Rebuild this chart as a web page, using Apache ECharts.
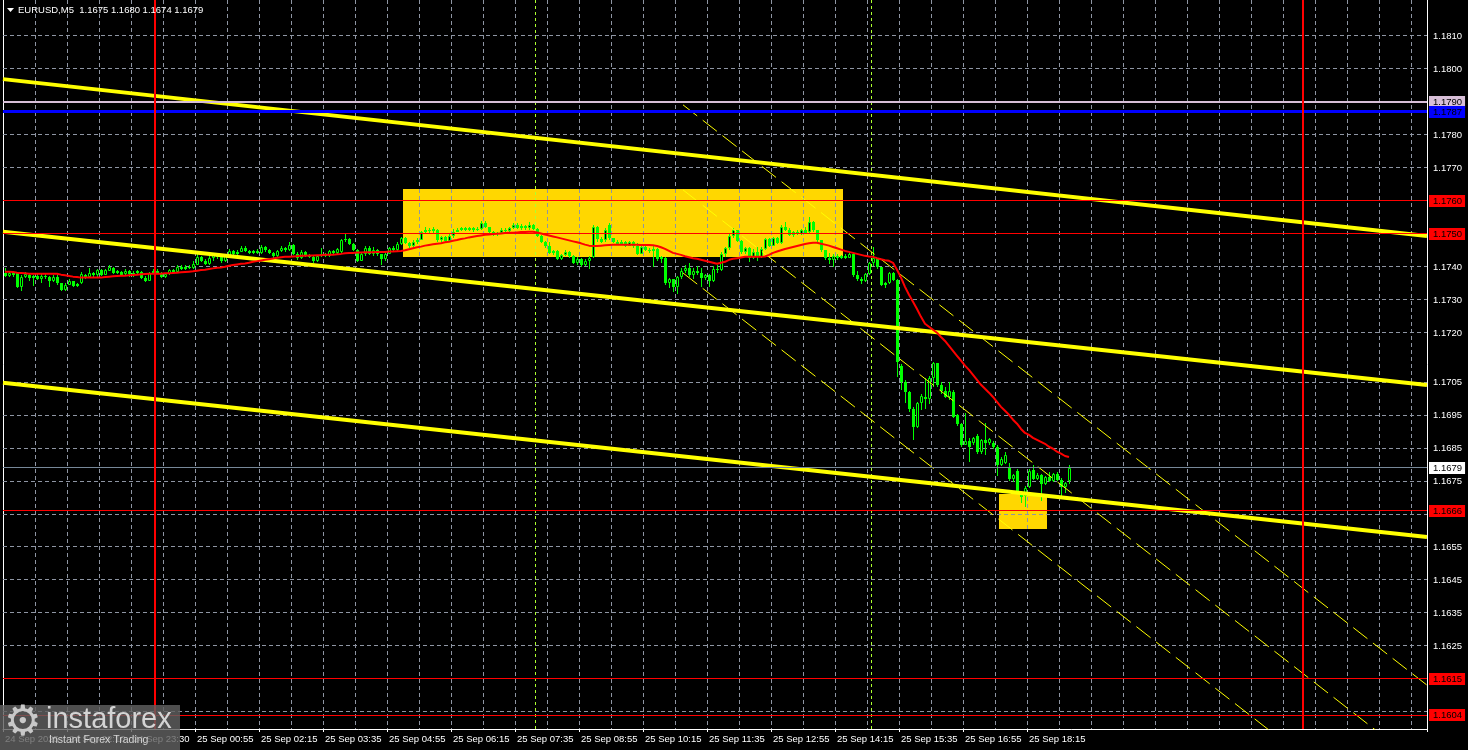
<!DOCTYPE html>
<html><head><meta charset="utf-8">
<script src="https://cdn.jsdelivr.net/npm/echarts@6/dist/echarts.min.js"></script>
<style>html,body{margin:0;padding:0;background:#000;}#c{width:1468px;height:750px;}</style>
</head><body><div id="c"></div>
<script>
// ---------------- DATA ----------------
const titleText = 'EURUSD,M5  1.1675 1.1680 1.1674 1.1679';
// candles: [open, close, low, high]
const ohlc = [
[1.17382,1.17372,1.17368,1.17396],[1.17372,1.17380,1.17368,1.17386],[1.17380,1.17375,1.17370,1.17386],[1.17380,1.17340,1.17336,1.17385],[1.17338,1.17370,1.17327,1.17374],
[1.17370,1.17378,1.17366,1.17384],[1.17375,1.17365,1.17358,1.17380],[1.17365,1.17372,1.17342,1.17376],[1.17372,1.17364,1.17360,1.17378],[1.17364,1.17373,1.17350,1.17378],
[1.17373,1.17370,1.17362,1.17382],[1.17368,1.17358,1.17338,1.17372],[1.17358,1.17370,1.17354,1.17374],[1.17370,1.17350,1.17346,1.17376],[1.17350,1.17328,1.17326,1.17352],
[1.17328,1.17346,1.17326,1.17350],[1.17346,1.17358,1.17344,1.17362],[1.17356,1.17342,1.17338,1.17358],[1.17342,1.17348,1.17339,1.17350],[1.17350,1.17378,1.17348,1.17384],
[1.17376,1.17366,1.17362,1.17378],[1.17368,1.17380,1.17366,1.17396],[1.17380,1.17374,1.17370,1.17384],[1.17374,1.17390,1.17370,1.17393],[1.17390,1.17376,1.17373,1.17394],
[1.17376,1.17390,1.17374,1.17394],[1.17388,1.17398,1.17386,1.17404],[1.17396,1.17382,1.17378,1.17398],[1.17382,1.17386,1.17378,1.17390],[1.17384,1.17376,1.17372,1.17388],
[1.17378,1.17388,1.17376,1.17392],[1.17386,1.17378,1.17370,1.17390],[1.17378,1.17382,1.17368,1.17386],[1.17382,1.17386,1.17376,1.17390],[1.17384,1.17366,1.17362,1.17386],
[1.17366,1.17358,1.17353,1.17372],[1.17358,1.17380,1.17356,1.17384],[1.17380,1.17388,1.17378,1.17394],[1.17388,1.17382,1.17378,1.17394],[1.17382,1.17370,1.17366,1.17384],
[1.17370,1.17378,1.17366,1.17382],[1.17378,1.17390,1.17376,1.17394],[1.17390,1.17384,1.17380,1.17394],[1.17384,1.17398,1.17382,1.17404],[1.17398,1.17394,1.17390,1.17404],
[1.17394,1.17400,1.17390,1.17404],[1.17400,1.17396,1.17392,1.17404],[1.17396,1.17408,1.17394,1.17416],[1.17406,1.17430,1.17404,1.17438],[1.17430,1.17418,1.17414,1.17434],
[1.17418,1.17408,1.17404,1.17422],[1.17408,1.17428,1.17406,1.17434],[1.17428,1.17436,1.17416,1.17442],[1.17436,1.17430,1.17424,1.17440],[1.17430,1.17416,1.17412,1.17434],
[1.17416,1.17434,1.17414,1.17440],[1.17434,1.17448,1.17430,1.17454],[1.17448,1.17440,1.17436,1.17452],[1.17440,1.17446,1.17436,1.17450],[1.17446,1.17458,1.17444,1.17464],
[1.17458,1.17448,1.17444,1.17462],[1.17448,1.17442,1.17438,1.17452],[1.17442,1.17448,1.17438,1.17452],[1.17448,1.17442,1.17438,1.17454],[1.17442,1.17460,1.17440,1.17466],
[1.17460,1.17450,1.17446,1.17462],[1.17450,1.17442,1.17438,1.17454],[1.17442,1.17432,1.17426,1.17444],[1.17432,1.17448,1.17430,1.17452],[1.17448,1.17456,1.17446,1.17462],
[1.17456,1.17450,1.17446,1.17460],[1.17450,1.17466,1.17448,1.17474],[1.17466,1.17440,1.17436,1.17468],[1.17440,1.17426,1.17420,1.17444],[1.17426,1.17446,1.17424,1.17450],
[1.17446,1.17434,1.17430,1.17448],[1.17434,1.17430,1.17426,1.17438],[1.17430,1.17416,1.17412,1.17432],[1.17416,1.17432,1.17414,1.17436],[1.17432,1.17440,1.17430,1.17456],
[1.17440,1.17434,1.17430,1.17442],[1.17434,1.17448,1.17430,1.17452],[1.17448,1.17442,1.17438,1.17452],[1.17442,1.17454,1.17440,1.17458],[1.17444,1.17480,1.17440,1.17484],
[1.17480,1.17484,1.17476,1.17498],[1.17484,1.17470,1.17466,1.17486],[1.17470,1.17452,1.17448,1.17472],[1.17452,1.17418,1.17414,1.17454],[1.17418,1.17440,1.17416,1.17446],
[1.17440,1.17456,1.17432,1.17462],[1.17456,1.17440,1.17436,1.17464],[1.17440,1.17452,1.17432,1.17460],[1.17452,1.17438,1.17434,1.17454],[1.17438,1.17424,1.17406,1.17440],
[1.17424,1.17438,1.17418,1.17442],[1.17440,1.17456,1.17438,1.17460],[1.17456,1.17450,1.17446,1.17464],[1.17450,1.17470,1.17446,1.17474],[1.17470,1.17486,1.17466,1.17490],
[1.17486,1.17472,1.17468,1.17490],[1.17472,1.17462,1.17458,1.17474],[1.17462,1.17476,1.17458,1.17480],[1.17476,1.17482,1.17470,1.17486],[1.17482,1.17504,1.17480,1.17508],
[1.17504,1.17512,1.17498,1.17520],[1.17512,1.17508,1.17502,1.17518],[1.17508,1.17514,1.17502,1.17522],[1.17512,1.17480,1.17476,1.17514],[1.17480,1.17490,1.17474,1.17494],
[1.17490,1.17478,1.17474,1.17492],[1.17478,1.17494,1.17476,1.17498],[1.17494,1.17506,1.17486,1.17514],[1.17506,1.17510,1.17504,1.17516],[1.17510,1.17516,1.17508,1.17522],
[1.17516,1.17512,1.17508,1.17520],[1.17512,1.17516,1.17508,1.17522],[1.17516,1.17510,1.17506,1.17520],[1.17510,1.17514,1.17508,1.17522],[1.17514,1.17532,1.17512,1.17538],
[1.17532,1.17520,1.17516,1.17538],[1.17520,1.17504,1.17500,1.17522],[1.17504,1.17498,1.17494,1.17508],[1.17498,1.17502,1.17494,1.17506],[1.17502,1.17512,1.17500,1.17516],
[1.17512,1.17508,1.17504,1.17518],[1.17508,1.17518,1.17506,1.17522],[1.17518,1.17528,1.17514,1.17534],[1.17528,1.17518,1.17514,1.17534],[1.17518,1.17524,1.17510,1.17530],
[1.17524,1.17516,1.17512,1.17528],[1.17516,1.17528,1.17512,1.17536],[1.17528,1.17514,1.17510,1.17530],[1.17514,1.17494,1.17490,1.17516],[1.17494,1.17476,1.17472,1.17496],
[1.17476,1.17462,1.17458,1.17478],[1.17462,1.17442,1.17440,1.17474],[1.17442,1.17448,1.17436,1.17452],[1.17448,1.17424,1.17420,1.17450],[1.17424,1.17436,1.17420,1.17440],
[1.17436,1.17446,1.17432,1.17450],[1.17446,1.17432,1.17428,1.17448],[1.17432,1.17412,1.17408,1.17436],[1.17412,1.17424,1.17404,1.17430],[1.17424,1.17406,1.17400,1.17428],
[1.17406,1.17418,1.17402,1.17422],[1.17418,1.17426,1.17392,1.17432],[1.17430,1.17520,1.17426,1.17528],[1.17520,1.17484,1.17474,1.17524],[1.17484,1.17476,1.17472,1.17490],
[1.17480,1.17512,1.17476,1.17518],[1.17526,1.17486,1.17482,1.17534],[1.17486,1.17476,1.17472,1.17488],[1.17476,1.17470,1.17466,1.17480],[1.17470,1.17476,1.17466,1.17480],
[1.17476,1.17464,1.17460,1.17478],[1.17464,1.17474,1.17462,1.17478],[1.17474,1.17462,1.17458,1.17478],[1.17462,1.17440,1.17436,1.17472],[1.17440,1.17460,1.17438,1.17466],
[1.17460,1.17452,1.17448,1.17466],[1.17452,1.17448,1.17442,1.17458],[1.17448,1.17454,1.17400,1.17462],[1.17454,1.17422,1.17418,1.17456],[1.17422,1.17430,1.17412,1.17434],
[1.17428,1.17350,1.17344,1.17430],[1.17350,1.17362,1.17336,1.17366],[1.17362,1.17340,1.17324,1.17364],[1.17340,1.17368,1.17316,1.17372],[1.17368,1.17388,1.17362,1.17396],
[1.17388,1.17396,1.17382,1.17404],[1.17396,1.17376,1.17368,1.17410],[1.17376,1.17388,1.17362,1.17396],[1.17388,1.17380,1.17376,1.17402],[1.17380,1.17366,1.17340,1.17396],
[1.17366,1.17374,1.17360,1.17378],[1.17374,1.17358,1.17338,1.17378],[1.17358,1.17394,1.17354,1.17402],[1.17394,1.17390,1.17382,1.17406],[1.17390,1.17440,1.17388,1.17446],
[1.17440,1.17456,1.17430,1.17460],[1.17456,1.17494,1.17450,1.17502],[1.17494,1.17510,1.17486,1.17518],[1.17510,1.17478,1.17474,1.17512],[1.17478,1.17444,1.17440,1.17480],
[1.17444,1.17456,1.17438,1.17460],[1.17456,1.17426,1.17414,1.17460],[1.17426,1.17444,1.17422,1.17454],[1.17444,1.17430,1.17418,1.17460],[1.17430,1.17454,1.17428,1.17460],
[1.17454,1.17484,1.17452,1.17488],[1.17484,1.17464,1.17460,1.17486],[1.17464,1.17486,1.17462,1.17490],[1.17486,1.17472,1.17468,1.17490],[1.17472,1.17520,1.17470,1.17526],
[1.17520,1.17512,1.17508,1.17536],[1.17512,1.17496,1.17492,1.17516],[1.17496,1.17504,1.17490,1.17508],[1.17504,1.17500,1.17496,1.17510],[1.17500,1.17510,1.17496,1.17514],
[1.17510,1.17502,1.17498,1.17520],[1.17506,1.17536,1.17502,1.17550],[1.17536,1.17510,1.17506,1.17538],[1.17510,1.17480,1.17476,1.17512],[1.17480,1.17450,1.17446,1.17482],
[1.17450,1.17426,1.17420,1.17452],[1.17426,1.17420,1.17408,1.17442],[1.17420,1.17434,1.17398,1.17440],[1.17434,1.17426,1.17420,1.17438],[1.17426,1.17432,1.17422,1.17436],
[1.17432,1.17428,1.17424,1.17438],[1.17428,1.17438,1.17426,1.17444],[1.17438,1.17374,1.17370,1.17442],[1.17374,1.17364,1.17358,1.17386],[1.17364,1.17356,1.17348,1.17370],
[1.17356,1.17378,1.17354,1.17382],[1.17378,1.17410,1.17376,1.17414],[1.17410,1.17426,1.17402,1.17460],[1.17426,1.17398,1.17394,1.17428],[1.17398,1.17346,1.17342,1.17400],
[1.17346,1.17350,1.17336,1.17354],[1.17350,1.17380,1.17348,1.17384],[1.17380,1.17360,1.17356,1.17384],[1.17360,1.17110,1.17066,1.17364],[1.17100,1.17050,1.17025,1.17104],
[1.17050,1.17020,1.16988,1.17056],[1.17020,1.16968,1.16960,1.17024],[1.16968,1.16914,1.16876,1.16974],[1.16914,1.16986,1.16910,1.16990],[1.16986,1.17008,1.16966,1.17014],
[1.17006,1.16998,1.16968,1.17064],[1.16998,1.17064,1.16984,1.17068],[1.17064,1.17108,1.17034,1.17112],[1.17108,1.17040,1.17034,1.17109],[1.17040,1.17022,1.17014,1.17050],
[1.17022,1.17006,1.17002,1.17036],[1.17006,1.17024,1.16996,1.17050],[1.17020,1.16944,1.16940,1.17026],[1.16950,1.16922,1.16918,1.16954],[1.16922,1.16860,1.16854,1.16926],
[1.16860,1.16872,1.16858,1.16956],[1.16872,1.16852,1.16808,1.16880],[1.16866,1.16880,1.16860,1.16884],[1.16888,1.16838,1.16832,1.16894],[1.16838,1.16874,1.16832,1.16878],
[1.16874,1.16866,1.16830,1.16926],[1.16866,1.16878,1.16860,1.16882],[1.16864,1.16854,1.16848,1.16870],[1.16854,1.16800,1.16764,1.16858],[1.16800,1.16818,1.16796,1.16824],
[1.16804,1.16830,1.16802,1.16838],[1.16794,1.16756,1.16750,1.16804],[1.16756,1.16768,1.16748,1.16772],[1.16780,1.16716,1.16710,1.16786],[1.16714,1.16702,1.16684,1.16720],
[1.16704,1.16730,1.16670,1.16736],[1.16732,1.16782,1.16728,1.16786],[1.16784,1.16756,1.16752,1.16800],[1.16756,1.16768,1.16752,1.16774],[1.16768,1.16742,1.16688,1.16772],
[1.16742,1.16762,1.16738,1.16766],[1.16762,1.16750,1.16746,1.16776],[1.16750,1.16770,1.16746,1.16774],[1.16770,1.16754,1.16750,1.16776],[1.16754,1.16732,1.16704,1.16760],
[1.16732,1.16744,1.16714,1.16748],[1.16750,1.16790,1.16740,1.16800]
];
// moving average (red) read per bar
const maLine = [
1.17385,1.17385,1.17384,1.17382,1.17381,1.17380,1.17379,1.17379,
1.17379,1.17379,1.17379,1.17379,1.17379,1.17379,
1.17376,1.17374,1.17372,1.17370,1.17369,
1.17367,1.17367,1.17367,1.17367,1.17367,1.17367,
1.17369,1.17370,1.17371,1.17372,1.17373,1.17373,1.17374,1.17375,
1.17376,1.17377,1.17378,1.17379,1.17379,1.17379,1.17379,1.17380,1.17380,1.17381,
1.17382,1.17383,1.17384,1.17385,1.17386,
1.17388,1.17390,1.17391,
1.17393,1.17395,1.17397,1.17398,
1.17400,1.17403,1.17405,1.17407,1.17409,1.17410,
1.17412,1.17415,1.17417,1.17419,1.17421,
1.17423,1.17425,1.17427,1.17429,1.17430,
1.17430,1.17431,1.17432,1.17433,1.17433,
1.17434,1.17434,1.17435,1.17435,1.17436,1.17436,1.17436,
1.17438,1.17439,1.17441,1.17442,
1.17442,1.17443,1.17443,1.17444,1.17444,1.17444,1.17445,1.17445,
1.17445,1.17446,1.17446,1.17447,1.17448,
1.17450,1.17453,1.17456,1.17459,1.17461,
1.17464,1.17466,1.17468,1.17470,
1.17471,1.17474,1.17476,1.17479,1.17481,1.17484,1.17486,1.17489,1.17491,1.17493,1.17495,1.17497,
1.17498,1.17499,1.17500,1.17501,1.17502,1.17503,1.17503,1.17504,1.17505,1.17505,1.17506,1.17506,
1.17504,1.17501,1.17498,1.17495,1.17492,1.17489,1.17486,
1.17483,1.17480,1.17477,1.17474,1.17471,1.17467,1.17464,
1.17463,1.17463,1.17464,1.17465,1.17466,1.17467,
1.17467,1.17467,1.17467,1.17467,1.17467,1.17467,1.17466,1.17466,1.17466,1.17465,
1.17463,1.17459,1.17454,1.17448,1.17442,
1.17439,1.17436,1.17432,1.17429,1.17426,1.17424,1.17421,
1.17418,1.17415,1.17412,1.17409,
1.17412,1.17415,1.17421,
1.17424,1.17426,1.17428,1.17430,1.17430,
1.17430,1.17430,1.17430,1.17431,
1.17436,1.17442,1.17446,1.17450,
1.17454,1.17457,1.17460,1.17463,1.17466,1.17469,1.17471,1.17473,
1.17473,1.17470,1.17467,
1.17464,1.17460,1.17456,1.17452,1.17448,
1.17445,1.17442,1.17439,1.17436,1.17433,1.17431,
1.17430,1.17426,1.17423,1.17420,1.17418,
1.17412,
1.17391,1.17367,1.17339,1.17315,1.17294,1.17272,1.17248,1.17227,1.17218,1.17209,1.17200,1.17187,1.17175,1.17160,1.17145,
1.17130,1.17115,1.17100,1.17087,1.17072,1.17057,1.17042,1.17030,1.17018,1.17005,1.16990,1.16975,1.16963,1.16951,1.16936,
1.16924,1.16908,1.16896,1.16890,1.16881,1.16875,1.16869,1.16863,1.16854,1.16848,1.16839,1.16833,1.16826,1.16823
];
const xTickIndex = [0,16,32,48,64,80,96,112,128,144,160,176,192,208,224,240,256];
const xTickText = ['24 Sep 2025','24 Sep 22:10','24 Sep 23:30','25 Sep 00:55','25 Sep 02:15','25 Sep 03:35','25 Sep 04:55','25 Sep 06:15',
  '25 Sep 07:35','25 Sep 08:55','25 Sep 10:15','25 Sep 11:35','25 Sep 12:55','25 Sep 14:15','25 Sep 15:35','25 Sep 16:55','25 Sep 18:15'];
const yGridLevels = [1.1810,1.1800,1.1790,1.1780,1.1770,1.1760,1.1750,1.1740,1.1730,1.1720,1.1705,1.1695,1.1685,1.1675,1.1665,1.1655,1.1645,1.1635,1.1625,1.1615,1.1605];
const yTickLabels = [1.1810,1.1800,1.1780,1.1770,1.1740,1.1730,1.1720,1.1705,1.1695,1.1685,1.1675,1.1665,1.1655,1.1645,1.1635,1.1625,1.1605];
const redLevels = [1.1760,1.1750,1.1666,1.1615,1.1604];
const thistleLevel = [1.1790];
const blueLevel = [1.1787];
const lastPrice = [1.1679];
// trend lines in (bar position, price)
const trendUpper = [[-0.5,1.17969],[355.5,1.17493]];
const trendMiddle = [[-0.5,1.17506],[355.5,1.17041]];
const trendLower = [[-0.5,1.17048],[355.5,1.16580]];
const channelTop = [[169.5,1.17891],[355.5,1.16131]];
const channelMid = [[169.5,1.17633],[355.5,1.15873]];
const channelBot = [[169.5,1.17381],[355.5,1.15621]];
const dayBreaks = [37.5, 324.5];
const sessionMarks = [132.5, 216.5];
// zones: [barFrom, priceTop, barTo, priceBottom]
const zones = [[99.5,1.17636,209.5,1.17430],[248.5,1.16711,260.5,1.16605]];
const Y_MIN = 1.15998, Y_MAX = 1.18209;
const SLOTS = 356;

// ---------------- CHART ----------------
const FONT = '"Liberation Sans", Arial, sans-serif';
const GRID_COLOR = '#8e95a3';
const CANDLE = '#00ff00';
const cats = Array.from({length: SLOTS}, (_, i) => String(i));
const tickSet = new Set(xTickIndex);

function hSeries(values, line, label, z) {
  return {
    type: 'custom', xAxisIndex: 1, yAxisIndex: 0, z: z, silent: true, clip: false,
    data: values.map(v => [0, v]), encode: {x: 0, y: 1},
    renderItem(params, api) {
      const cs = params.coordSys;
      const v = api.value(1);
      const y = api.coord([0, v])[1];
      const children = [];
      if (line) {
        const yy = (line.width % 2 === 1) ? Math.round(y - 0.5) + 0.5 : Math.round(y);
        children.push({type: 'line', shape: {x1: cs.x, y1: yy, x2: cs.x + cs.width, y2: yy},
          style: {stroke: line.color, lineWidth: line.width, lineDash: line.dash || null}});
      }
      if (label) {
        const st = {text: v.toFixed(4), fill: label.fill, font: '9.5px ' + FONT, align: 'left', verticalAlign: 'middle'};
        if (label.bg) { st.backgroundColor = label.bg; st.padding = [1, 3, 1, 4]; st.lineHeight = 10; }
        children.push({type: 'text', x: cs.x + cs.width + (label.bg ? 2 : 6), y: Math.round(y), style: st});
      }
      return {type: 'group', children};
    }
  };
}
function vSeries(values, color, width, dash, z) {
  return {
    type: 'custom', xAxisIndex: 1, yAxisIndex: 0, z: z, silent: true,
    data: values.map(v => [v, 1.17]), encode: {x: 0, y: 1},
    renderItem(params, api) {
      const cs = params.coordSys;
      let x = api.coord([api.value(0), 1.17])[0];
      x = (width % 2 === 1) ? Math.round(x - 0.5) + 0.5 : Math.round(x);
      return {type: 'line', shape: {x1: x, y1: cs.y, x2: x, y2: cs.y + cs.height},
        style: {stroke: color, lineWidth: width, lineDash: dash || null}};
    }
  };
}
function lineSeries(data, color, width, type, z) {
  return {type: 'line', xAxisIndex: 1, yAxisIndex: 0, data: data, symbol: 'none', silent: true, z: z,
    lineStyle: {color: color, width: width, type: type}, clip: true};
}
// candles drawn pixel-crisp through the axis scales (api.coord)
function renderCandle(params, api) {
  const i = api.value(0);
  const o = api.value(1), c = api.value(2), l = api.value(3), h = api.value(4);
  const xc = Math.round(api.coord([i, o])[0]);
  const yo = Math.round(api.coord([i, o])[1]);
  const yc = Math.round(api.coord([i, c])[1]);
  const yl = Math.round(api.coord([i, l])[1]);
  const yh = Math.round(api.coord([i, h])[1]);
  const top = Math.min(yo, yc);
  let bot = Math.max(yo, yc);
  if (bot - top < 1) bot = top + 1;
  const children = [];
  const wx = xc + 0.5;
  if (c > o && bot - top >= 3) {
    if (top > yh) children.push({type: 'line', shape: {x1: wx, y1: yh, x2: wx, y2: top}, style: {stroke: CANDLE, lineWidth: 1}});
    if (yl > bot) children.push({type: 'line', shape: {x1: wx, y1: bot, x2: wx, y2: yl}, style: {stroke: CANDLE, lineWidth: 1}});
    children.push({type: 'rect', shape: {x: xc - 0.5, y: top + 0.5, width: 2, height: bot - top - 1},
      style: {fill: '#000000', stroke: CANDLE, lineWidth: 1}});
  } else {
    children.push({type: 'line', shape: {x1: wx, y1: yh, x2: wx, y2: Math.max(yl, yh + 1)}, style: {stroke: CANDLE, lineWidth: 1}});
    children.push({type: 'rect', shape: {x: xc - 1, y: top, width: 3, height: bot - top}, style: {fill: CANDLE}});
  }
  return {type: 'group', children};
}

const chart = echarts.init(document.getElementById('c'), null, {renderer: 'canvas', width: 1468, height: 750});
chart.setOption({
  backgroundColor: '#000000',
  animation: false,
  grid: {left: 3, right: 41, top: 0, bottom: 21, containLabel: false, outerBoundsMode: 'none'},
  xAxis: [
    {type: 'category', data: cats, boundaryGap: true, position: 'bottom',
     axisLine: {show: true, onZero: false, lineStyle: {color: '#ffffff', width: 1}},
     axisTick: {show: true, length: 3, interval: (i) => tickSet.has(i), lineStyle: {color: '#ffffff'}},
     axisLabel: {show: true, interval: (i) => tickSet.has(i), color: '#ffffff', fontSize: 9.5, fontFamily: FONT,
       align: 'left', margin: 5, formatter: (v) => xTickText[xTickIndex.indexOf(Number(v))] || ''},
     splitLine: {show: true, interval: (i) => i % 8 === 0, lineStyle: {color: GRID_COLOR, width: 1, type: [4, 3]}}},
    {type: 'value', min: -0.5, max: SLOTS - 0.5, show: false}
  ],
  yAxis: [
    {type: 'value', min: Y_MIN, max: Y_MAX, position: 'right', scale: true,
     axisLine: {show: true, onZero: false, lineStyle: {color: '#ffffff'}}, axisTick: {show: false},
     axisLabel: {show: false}, splitLine: {show: false}},
    {type: 'value', min: Y_MIN, max: Y_MAX, position: 'left', scale: true,
     axisLine: {show: true, onZero: false, lineStyle: {color: '#ffffff'}}, axisTick: {show: false},
     axisLabel: {show: false}, splitLine: {show: false}}
  ],
  graphic: [
    {type: 'polygon', shape: {points: [[7, 8], [14, 8], [10.5, 12]]}, style: {fill: '#ffffff'}, z: 100},
    {type: 'text', x: 18, y: 5, style: {text: titleText, fill: '#ffffff', font: '9.5px ' + FONT}, z: 100},
    {type: 'rect', shape: {x: 0, y: 705, width: 180, height: 45}, style: {fill: 'rgba(96,96,96,0.82)'}, z: 100},
    {type: 'text', x: 4, y: 703, style: {text: '\u2699', fill: '#c8c8c8', font: '42px "DejaVu Sans"'}, z: 101},
    {type: 'text', x: 46, y: 705, style: {text: 'instaforex', fill: '#d4d4d4', font: '29px ' + FONT}, z: 101},
    {type: 'text', x: 49, y: 735, style: {text: 'Instant Forex Trading', fill: '#d4d4d4', font: '10.5px ' + FONT}, z: 101}
  ],
  series: [
    {type: 'custom', xAxisIndex: 1, yAxisIndex: 0, z: -1, silent: true, data: zones, encode: {x: [0, 2], y: [1, 3]},
     renderItem(params, api) {
       const p1 = api.coord([api.value(0), api.value(1)]);
       const p2 = api.coord([api.value(2), api.value(3)]);
       return {type: 'rect', shape: {x: Math.round(p1[0]), y: Math.round(p1[1]), width: Math.round(p2[0] - p1[0]), height: Math.round(p2[1] - p1[1])},
         style: {fill: '#ffd700'}};
     }},
    hSeries(yGridLevels, {color: GRID_COLOR, width: 1, dash: [4, 3]}, null, 0.5),
    vSeries(sessionMarks, '#adff2f', 1, [3, 3], 3),
    {type: 'custom', xAxisIndex: 0, yAxisIndex: 0, z: 5, silent: true,
     data: ohlc.map((d, i) => [i, d[0], d[1], d[2], d[3]]), encode: {x: 0, y: [1, 2, 3, 4]},
     renderItem: renderCandle},
    lineSeries(trendUpper, '#ffff00', 4, 'solid', 6),
    lineSeries(trendMiddle, '#ffff00', 4, 'solid', 6),
    lineSeries(trendLower, '#ffff00', 4, 'solid', 6),
    lineSeries(channelTop, '#ffff00', 1, [18, 7], 6),
    lineSeries(channelMid, '#ffff00', 1, [18, 7], 6),
    lineSeries(channelBot, '#ffff00', 1, [18, 7], 6),
    {type: 'line', xAxisIndex: 0, yAxisIndex: 0, data: maLine, symbol: 'none', silent: true, z: 7,
     lineStyle: {color: '#ff0000', width: 2}},
    hSeries(yTickLabels, null, {fill: '#ffffff'}, 10),
    hSeries(lastPrice, {color: '#778899', width: 1}, {fill: '#000000', bg: '#ffffff'}, 11),
    hSeries(redLevels, {color: '#ff0000', width: 1}, {fill: '#000000', bg: '#ff0000'}, 11),
    hSeries(thistleLevel, {color: '#d8bfd8', width: 2}, {fill: '#000000', bg: '#d8bfd8'}, 11),
    hSeries(blueLevel, {color: '#0000ff', width: 3}, {fill: '#000000', bg: '#0000ff'}, 11),
    vSeries(dayBreaks, '#ff0000', 2, null, 12)
  ]
});
</script></body></html>
